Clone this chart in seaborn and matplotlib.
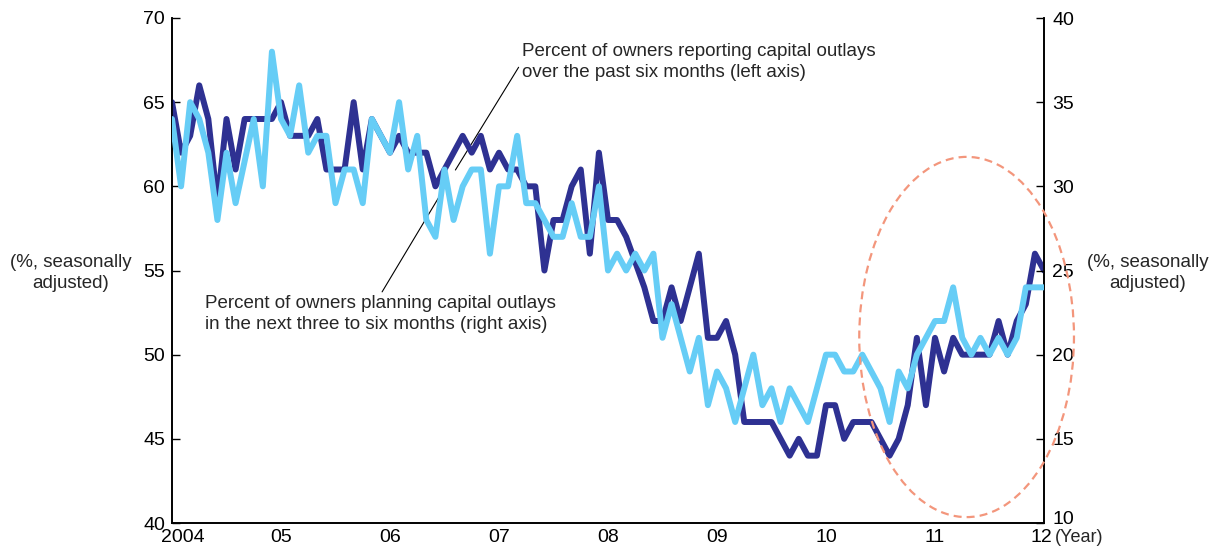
"""
plot.py
Small-business capital outlays: past six months (left axis) vs
planned over next three to six months (right axis), monthly 2004-2012.
"""

import numpy as np
import pandas as pd
import matplotlib
matplotlib.use("Agg")
import matplotlib.pyplot as plt
import matplotlib.transforms as mtransforms
from matplotlib.patches import Ellipse
import seaborn as sns

# % of owners reporting capital outlays over the past six months (left axis), from Jan 2004
past_outlays = [
    65, 62, 63, 66, 64, 59, 64, 61, 64, 64, 64, 64,
    65, 63, 63, 63, 64, 61, 61, 61, 65, 61, 64, 63,
    62, 63, 62, 62, 62, 60, 61, 62, 63, 62, 63, 61,
    62, 61, 61, 60, 60, 55, 58, 58, 60, 61, 56, 62,
    58, 58, 57, 55.5, 54, 52, 52, 54, 52, 54, 56, 51,
    51, 52, 50, 46, 46, 46, 46, 45, 44, 45, 44, 44,
    47, 47, 45, 46, 46, 46, 45, 44, 45, 47, 51, 47,
    51, 49, 51, 50, 50, 50, 50, 52, 50, 52, 53, 56, 55,
]
# % of owners planning capital outlays in the next three to six months (right axis)
planned_outlays = [
    34, 30, 35, 34, 32, 28, 32, 29, 31.5, 34, 30, 38,
    34, 33, 36, 32, 33, 33, 29, 31, 31, 29, 34, 33,
    32, 35, 31, 33, 28, 27, 31, 28, 30, 31, 31, 26,
    30, 30, 33, 29, 29, 28, 27, 27, 29, 27, 27, 30,
    25, 26, 25, 26, 25, 26, 21, 23, 21, 19, 21, 17,
    19, 18, 16, 18, 20, 17, 18, 16, 18, 17, 16, 18,
    20, 20, 19, 19, 20, 19, 18, 16, 19, 18, 20, 21,
    22, 22, 24, 21, 20, 21, 20, 21, 20, 21, 24, 24, 24,
]
years = [2004, 2005, 2006, 2007, 2008, 2009, 2010, 2011, 2012]
year_labels = ["2004", "05", "06", "07", "08", "09", "10", "11", "12"]
left_ticks = [40, 45, 50, 55, 60, 65, 70]
right_ticks = [10, 15, 20, 25, 30, 35, 40]

NAVY = "#2E3192"
SKY = "#66CDF6"
SALMON = "#F3967C"

dates = pd.date_range("2004-01-01", periods=len(past_outlays), freq="MS")
df = pd.DataFrame({
    "t": dates.year + (dates.month - 1) / 12,
    "past": past_outlays,
    "planned": planned_outlays,
})

sns.set_style("white")
plt.rcParams["font.family"] = ["Liberation Sans", "DejaVu Sans"]

W, H = 1215, 547
fig = plt.figure(figsize=(W / 100, H / 100), dpi=100)
ax = fig.add_axes([172 / W, 1 - 523 / H, (1044 - 172) / W, (523 - 18) / H])
ax2 = ax.twinx()

sns.lineplot(data=df, x="t", y="past", ax=ax, color=NAVY, lw=4.3, zorder=3)
sns.lineplot(data=df, x="t", y="planned", ax=ax2, color=SKY, lw=4.3, zorder=3)

ax.set_xlim(years[0], years[-1])
ax.set_ylim(left_ticks[0], left_ticks[-1])
ax2.set_ylim(right_ticks[0], right_ticks[-1])
ax.set_xticks(years)
ax.set_xticklabels(year_labels)
ax.set_yticks(left_ticks)
ax2.set_yticks(right_ticks)
for a in (ax, ax2):
    a.set_xlabel("")
    a.set_ylabel("")
    a.spines["top"].set_visible(False)
    for s in a.spines.values():
        s.set_color("black")
        s.set_linewidth(1.2)
    a.tick_params(direction="in", length=6, width=1, labelsize=14, colors="black")
ax.tick_params(axis="x", pad=4)
ax.tick_params(axis="y", pad=5)
ax2.tick_params(axis="y", pad=6)

# nudge "2004" right, "12" left and the right-hand "10" up, like the original
xlabs = ax.get_xticklabels()
xlabs[0].set_transform(xlabs[0].get_transform() + mtransforms.ScaledTranslation(0.11, 0, fig.dpi_scale_trans))
xlabs[-1].set_transform(xlabs[-1].get_transform() + mtransforms.ScaledTranslation(-0.03, 0, fig.dpi_scale_trans))
rlab0 = ax2.get_yticklabels()[0]
rlab0.set_transform(rlab0.get_transform() + mtransforms.ScaledTranslation(0, 0.05, fig.dpi_scale_trans))

# annotations with leader lines (drawn beneath the series)
line_kw = dict(arrowstyle="-", color="black", lw=0.8, shrinkA=0, shrinkB=0)
ax.annotate("Percent of owners reporting capital outlays\nover the past six months (left axis)",
            xy=(2006.60, 60.97), xytext=(2007.21, 67.39),
            ha="left", va="center", fontsize=13.5, linespacing=1.3, zorder=1.5,
            arrowprops=dict(relpos=(0, 0.5), **line_kw))
ax.annotate("Percent of owners planning capital outlays\nin the next three to six months (right axis)",
            xy=(2006.46, 59.48), xytext=(2004.30, 52.41),
            ha="left", va="center", fontsize=13.5, linespacing=1.3, zorder=1.5,
            arrowprops=dict(relpos=(0.5, 1.0), **line_kw))

# dashed ellipse highlighting the recent recovery
ax2.add_patch(Ellipse((2011.29, 21.05), width=1.97, height=21.4, fill=False,
                      ec=SALMON, lw=1.6, ls=(0, (3.6, 2.3)), clip_on=False, zorder=5))

fig.text(71 / W, 1 - 273 / H, "(%, seasonally\nadjusted)", ha="center", va="center",
         fontsize=13.5, linespacing=1.25)
fig.text(1148 / W, 1 - 273 / H, "(%, seasonally\nadjusted)", ha="center", va="center",
         fontsize=13.5, linespacing=1.25)
fig.text(1055 / W, 1 - 546 / H, "(Year)", ha="left", va="bottom", fontsize=13)

fig.savefig("out.png", dpi=100)
plt.close()
